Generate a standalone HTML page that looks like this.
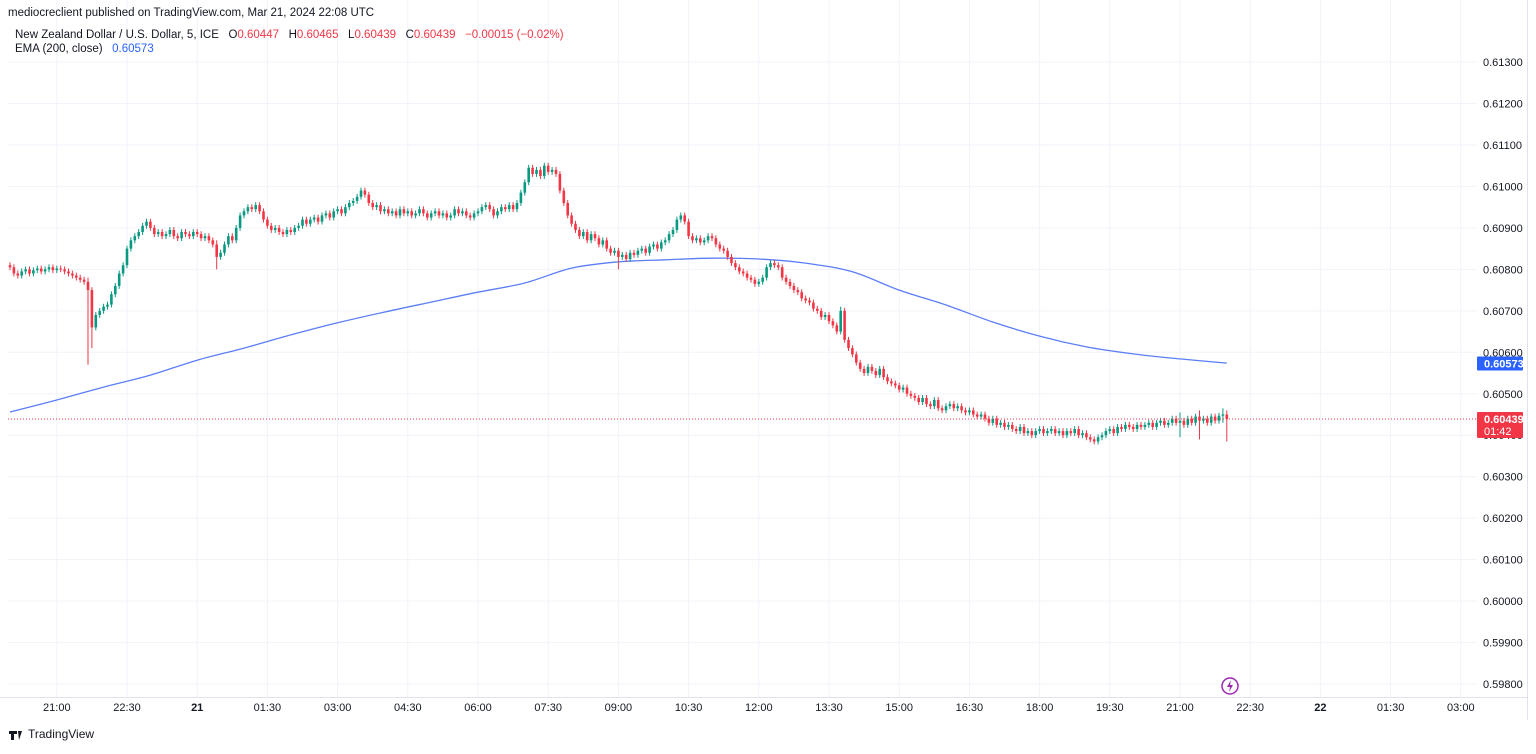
<!DOCTYPE html>
<html><head><meta charset="utf-8"><style>
body{margin:0;background:#fff;font-family:"Liberation Sans",sans-serif;}
svg text{font-family:"Liberation Sans",sans-serif;white-space:pre;}
</style></head><body>
<svg id="c" width="1536" height="749" xmlns="http://www.w3.org/2000/svg">
<rect width="1536" height="749" fill="#fff"/>
<g id="grid"></g>
<g id="ema"></g>
<g id="candles"></g>
<g id="axes"></g>
<text x="8" y="16" font-size="11.5" fill="#131722">mediocreclient published on TradingView.com, Mar 21, 2024 22:08 UTC</text>
<text x="15" y="38" font-size="11.5" fill="#131722" xml:space="preserve">New Zealand Dollar / U.S. Dollar, 5, ICE   O<tspan fill="#f23645">0.60447</tspan>   H<tspan fill="#f23645">0.60465</tspan>   L<tspan fill="#f23645">0.60439</tspan>   C<tspan fill="#f23645">0.60439</tspan>   <tspan fill="#f23645">−0.00015 (−0.02%)</tspan></text>
<text x="15" y="52" font-size="11.5" fill="#131722" xml:space="preserve">EMA (200, close)   <tspan fill="#2962ff">0.60573</tspan></text>
<text x="28" y="738" font-size="12" fill="#131722">TradingView</text>
<path d="M9 731h8v3h-3v6h-3v-6h-2z M18 731h4l-3 9z" fill="#131722"/>
<circle cx="1230" cy="686" r="8" fill="none" stroke="#9c27b0" stroke-width="1.5"/>
<path d="M1231 680l-4 7h3l-1 5 4-7h-3z" fill="#9c27b0"/>
</svg>
<script>
const closes=[0.60805,0.60790,0.60785,0.60795,0.60800,0.60790,0.60798,0.60802,0.60795,0.60800,0.60805,0.60798,0.60802,0.60800,0.60795,0.60790,
0.60785,0.60780,0.60775,0.60770,0.60750,
0.60660,0.60690,0.60700,0.60710,0.60715,0.60740,0.60760,0.60790,0.60810,0.60850,0.60870,
0.60880,0.60890,0.60905,0.60915,0.60900,
0.60885,0.60890,0.60880,0.60885,0.60895,0.60880,0.60875,0.60890,0.60885,0.60880,0.60890,0.60885,0.60875,0.60880,0.60870,0.60860,
0.60830,0.60840,0.60860,0.60880,0.60870,0.60900,0.60930,0.60940,0.60950,0.60945,0.60955,0.60940,
0.60920,0.60905,0.60895,0.60900,0.60890,0.60885,
0.60895,0.60890,0.60900,0.60905,0.60920,0.60910,0.60920,0.60925,0.60915,0.60930,
0.60935,0.60925,0.60940,0.60945,0.60935,0.60950,0.60960,0.60965,0.60975,0.60990,0.60980,
0.60960,0.60950,0.60955,0.60940,0.60945,
0.60935,0.60940,0.60930,0.60945,0.60935,0.60940,0.60930,0.60935,0.60945,0.60935,0.60925,0.60935,0.60940,0.60930,0.60935,0.60925,0.60930,0.60945,0.60935,0.60940,0.60930,0.60925,0.60935,0.60940,
0.60950,0.60955,0.60945,0.60930,0.60940,0.60950,0.60945,0.60955,0.60945,0.60960,
0.60985,0.61010,0.61045,
0.61030,0.61040,0.61025,0.61050,0.61035,0.61040,0.61030,
0.60990,0.60960,0.60930,0.60910,0.60895,
0.60880,0.60890,0.60870,0.60885,0.60875,0.60860,0.60870,
0.60850,0.60840,0.60845,0.60830,0.60835,0.60825,0.60840,0.60835,
0.60845,0.60850,0.60840,0.60855,0.60860,0.60850,0.60865,0.60870,0.60885,0.60895,
0.60920,0.60930,0.60915,
0.60880,0.60870,0.60875,0.60865,0.60870,
0.60880,0.60875,0.60860,0.60850,0.60845,
0.60830,0.60815,0.60805,0.60795,0.60790,0.60780,0.60775,
0.60765,0.60770,0.60780,0.60805,0.60815,0.60810,0.60805,
0.60780,0.60770,0.60760,0.60750,0.60745,0.60730,0.60725,0.60720,
0.60705,0.60700,0.60685,0.60690,0.60675,0.60665,0.60650,0.60700,
0.60630,0.60610,0.60595,0.60575,0.60560,0.60550,0.60565,
0.60555,0.60545,0.60560,0.60540,0.60530,
0.60525,0.60520,0.60510,0.60515,0.60500,0.60495,0.60490,
0.60480,0.60490,0.60475,0.60470,0.60485,0.60465,0.60460,0.60470,
0.60475,0.60465,0.60470,0.60460,0.60455,0.60460,0.60450,0.60445,0.60450,0.60440,
0.60430,0.60440,0.60425,0.60430,0.60420,0.60425,
0.60415,0.60410,0.60420,0.60405,0.60410,0.60400,
0.60410,0.60415,0.60405,0.60410,0.60415,0.60405,0.60410,0.60400,0.60410,0.60405,0.60415,0.60400,0.60405,
0.60395,0.60390,0.60385,0.60395,0.60400,
0.60410,0.60415,0.60405,0.60420,0.60415,0.60425,0.60420,0.60415,0.60425,0.60420,
0.60425,0.60430,0.60420,0.60430,0.60435,0.60425,0.60430,0.60440,0.60430,0.60435,0.60425,0.60440,0.60430,0.60445,0.60435,0.60440,0.60430,0.60445,0.60435,0.60447,
0.60450,0.60439];
const firstOpen=0.60810;
const spikeIdx=[20,21,53,156,213,300,305,311,312];
const spikeLow=[0.60570,0.60610,0.60800,0.60800,0.60650,0.60395,0.60390,0.60430,0.60385];
const spikeHigh=[0.60780,0.60700,0.60870,0.60850,0.60710,0.60455,0.60460,0.60465,0.60460];
const emaIdx=[0,12,24,36,48,60,72,84,96,108,120,132,144,156,168,180,192,204,216,228,240,252,264,276,288,300,312];
const emaVals=[0.60456,0.60485,0.60516,0.60545,0.60581,0.60610,0.60642,0.60671,0.60697,0.60721,0.60745,0.60767,0.60803,0.60818,0.60823,0.60827,0.60825,0.60815,0.60794,0.60750,0.60714,0.60673,0.60639,0.60613,0.60596,0.60584,0.60574];
const priceTicks=[0.61300,0.61200,0.61100,0.61000,0.60900,0.60800,0.60700,0.60600,0.60500,0.60400,0.60300,0.60200,0.60100,0.60000,0.59900,0.59800];
const timeLabels=["21:00","22:30","21","01:30","03:00","04:30","06:00","07:30","09:00","10:30","12:00","13:30","15:00","16:30","18:00","19:30","21:00","22:30","22","01:30","03:00"];
const lastPrice=0.60439, emaLast=0.60573;

const NS="http://www.w3.org/2000/svg";
const y=p=>62+(0.613-p)*41470;
const x=i=>10+i*3.9;
const PR=1477;
function el(t,a,parent){const e=document.createElementNS(NS,t);for(const k in a)e.setAttribute(k,a[k]);document.getElementById(parent).appendChild(e);return e;}

priceTicks.forEach(p=>{
 const l=el('line',{x1:8,x2:PR,y1:y(p),y2:y(p),stroke:'#f0f3fa'},'grid');
 
 
 const t=el('text',{x:1483,y:y(p)+4,'font-size':'11',fill:'#131722'},'axes');
 t.textContent=p.toFixed(5);
 
 
});
timeLabels.forEach((s,k)=>{
 const xx=x(12+k*18);
 const l=el('line',{x1:xx,x2:xx,y1:0,y2:697,stroke:'#f0f3fa'},'grid');
 
 
 const bold=(s.length<=2);
 const t=el('text',{x:xx,y:711,'font-size':'11','text-anchor':'middle',fill:'#131722','font-weight':bold?'bold':'normal'},'axes');
 t.textContent=s;
 
 
});
let ax=el('line',{x1:0,x2:1528,y1:697.5,y2:697.5,stroke:'#e0e3eb'},'axes');


ax=el('line',{x1:1527.5,x2:1527.5,y1:0,y2:720,stroke:'#e0e3eb'},'axes');



// EMA (smooth Catmull-Rom through data points)
const P=emaIdx.map((i,k)=>[x(i),y(emaVals[k])]);
let d='M'+P[0][0].toFixed(1)+' '+P[0][1].toFixed(1);
for(let k=0;k<P.length-1;k++){
 const p0=P[Math.max(0,k-1)],p1=P[k],p2=P[k+1],p3=P[Math.min(P.length-1,k+2)];
 const c1=[p1[0]+(p2[0]-p0[0])/6,p1[1]+(p2[1]-p0[1])/6];
 const c2=[p2[0]-(p3[0]-p1[0])/6,p2[1]-(p3[1]-p1[1])/6];
 d+='C'+c1[0].toFixed(1)+' '+c1[1].toFixed(1)+' '+c2[0].toFixed(1)+' '+c2[1].toFixed(1)+' '+p2[0].toFixed(1)+' '+p2[1].toFixed(1);
}
const ep=el('path',{d:d,fill:'none',stroke:'#5b7ef5','stroke-width':1.3},'ema');



// candles
closes.forEach((c,i)=>{
 const o=i?closes[i-1]:firstOpen;
 let hi=Math.max(o,c)+0.00007, lo=Math.min(o,c)-0.00007;
 const s=spikeIdx.indexOf(i);
 if(s>=0){hi=Math.max(hi,spikeHigh[s]);lo=Math.min(lo,spikeLow[s]);}
 const col=c>=o?'#089981':'#f23645';
 const cx=x(i);
 const w=el('line',{x1:cx,x2:cx,y1:y(hi),y2:y(lo),stroke:col,'stroke-width':1},'candles');
 
 
 const top=y(Math.max(o,c)),h=Math.max(1,y(Math.min(o,c))-top);
 const b=el('rect',{x:cx-1.3,y:top,width:2.6,height:h,fill:col},'candles');
 
 
});

// last price line and tags
const lp=el('line',{x1:8,x2:PR,y1:y(lastPrice),y2:y(lastPrice),stroke:'#f23645','stroke-dasharray':'1 2'},'axes');


const eb=el('rect',{x:1477,y:y(emaLast)-7,width:46,height:14,fill:'#2962ff',rx:1},'axes');


let t=el('text',{x:1484,y:y(emaLast)+4,'font-size':'11',fill:'#fff','font-weight':'bold'},'axes');t.textContent=emaLast.toFixed(5);


const lb=el('rect',{x:1477,y:y(lastPrice)-7,width:46,height:26,fill:'#f23645',rx:1},'axes');


t=el('text',{x:1484,y:y(lastPrice)+4,'font-size':'11',fill:'#fff','font-weight':'bold'},'axes');t.textContent=lastPrice.toFixed(5);


t=el('text',{x:1484,y:y(lastPrice)+16,'font-size':'11',fill:'#fff'},'axes');t.textContent='01:42';


</script>
</body></html>
